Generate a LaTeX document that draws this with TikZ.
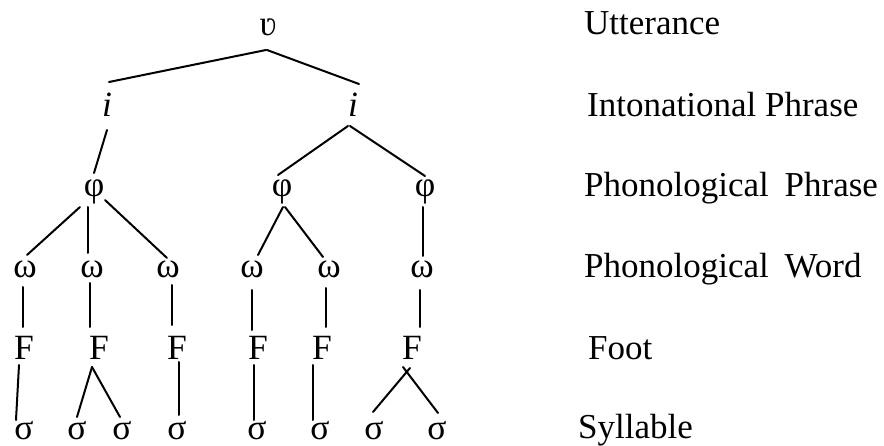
\documentclass[tikz,border=0pt]{standalone}
\usepackage{fontspec}
\setmainfont{Liberation Serif}
\usetikzlibrary{calc}
\begin{document}
\begin{tikzpicture}[x=1pt,y=-1pt,
  sym/.style={inner sep=0pt,anchor=base,font=\fontsize{35.5}{40}\selectfont},
  lvl/.style={inner sep=0pt,anchor=base west,font=\fontsize{35}{40}\selectfont},
  edge/.style={line width=2pt,line cap=round}]
\useasboundingbox (0,0) rectangle (884,446);
% tree nodes
\node[sym] (u) at (268,36) {ʋ};
\node[sym] (i1) at (107,117) {\itshape i};
\node[sym] (i2) at (353,117) {\itshape i};
\node[sym] (p1) at (94,197) {φ};
\node[sym] (p2) at (282,197) {φ};
\node[sym] (p3) at (425,197) {φ};
\node[sym] (w1) at (25,278) {ω};
\node[sym] (w2) at (92,278) {ω};
\node[sym] (w3) at (168,278) {ω};
\node[sym] (w4) at (252,278) {ω};
\node[sym] (w5) at (329,278) {ω};
\node[sym] (w6) at (422,278) {ω};
\node[sym] (f1) at (24,360) {F};
\node[sym] (f2) at (99,360) {F};
\node[sym] (f3) at (177,360) {F};
\node[sym] (f4) at (258,360) {F};
\node[sym] (f5) at (322,360) {F};
\node[sym] (f6) at (412,360) {F};
\node[sym] (s1) at (24,439) {σ};
\node[sym] (s2) at (77,439) {σ};
\node[sym] (s3) at (122,439) {σ};
\node[sym] (s4) at (177,439) {σ};
\node[sym] (s5) at (257,439) {σ};
\node[sym] (s6) at (320,439) {σ};
\node[sym] (s7) at (374,439) {σ};
\node[sym] (s8) at (437,439) {σ};
% level labels
\node[lvl] (lu) at (584,35) {Utterance};
\node[lvl] (li) at (587,117) {Intonational Phrase};
\node[lvl] (lp) at (584,197) {Phonological\hspace{0.45em}Phrase};
\node[lvl] (lw) at (584,278) {Phonological\hspace{0.45em}Word};
\node[lvl] (lf) at (588,360) {Foot};
\node[lvl] (ls) at (578,438) {Syllable};
% connectors
\draw[edge] ($(u.base)+(-2,14)$) -- ($(i1.base)+(2,-35)$);
\draw[edge] ($(u.base)+(-1,14)$) -- ($(i2.base)+(6,-33)$);
\draw[edge] ($(i1.base)+(0,13)$) -- ($(p1.base)+(0,-24)$);
\draw[edge] ($(i2.base)+(-5,9)$) -- ($(p2.base)+(-4,-22)$);
\draw[edge] ($(i2.base)+(-3,9)$) -- ($(p3.base)+(0,-21)$);
\draw[edge] ($(p1.base)+(-14,10)$) -- ($(w1.base)+(2,-23)$);
\draw[edge] ($(p1.base)+(-6,10)$) -- ($(w2.base)+(-4,-25)$);
\draw[edge] ($(p1.base)+(11,3)$) -- ($(w3.base)+(-1,-20)$);
\draw[edge] ($(p2.base)+(1,10)$) -- ($(w4.base)+(6,-23)$);
\draw[edge] ($(p2.base)+(3,10)$) -- ($(w5.base)+(-6,-21)$);
\draw[edge] ($(p3.base)+(-2,10)$) -- ($(w6.base)+(1,-22)$);
\draw[edge] ($(w1.base)+(-2,9)$) -- ($(f1.base)+(-1,-33)$);
\draw[edge] ($(w2.base)+(-2,5)$) -- ($(f2.base)+(-9,-33)$);
\draw[edge] ($(w3.base)+(4,7)$) -- ($(f3.base)+(-5,-35)$);
\draw[edge] ($(w4.base)+(0,12)$) -- ($(f4.base)+(-6,-30)$);
\draw[edge] ($(w5.base)+(-3,10)$) -- ($(f5.base)+(4,-33)$);
\draw[edge] ($(w6.base)+(-2,12)$) -- ($(f6.base)+(8,-33)$);
\draw[edge] ($(f1.base)+(-5,5)$) -- ($(s1.base)+(-8,-19)$);
\draw[edge] ($(f2.base)+(-7,7)$) -- ($(s2.base)+(0,-22)$);
\draw[edge] ($(f2.base)+(-7,7)$) -- ($(s3.base)+(-2,-22)$);
\draw[edge] ($(f3.base)+(2,2)$) -- ($(s4.base)+(2,-24)$);
\draw[edge] ($(f4.base)+(-4,5)$) -- ($(s5.base)+(-3,-19)$);
\draw[edge] ($(f5.base)+(-9,5)$) -- ($(s6.base)+(-7,-19)$);
\draw[edge] ($(f6.base)+(-9,7)$) -- ($(s8.base)+(1,-26)$);
\draw[edge] ($(f6.base)+(-2,8)$) -- ($(s7.base)+(-1,-27)$);
\end{tikzpicture}
\end{document}
